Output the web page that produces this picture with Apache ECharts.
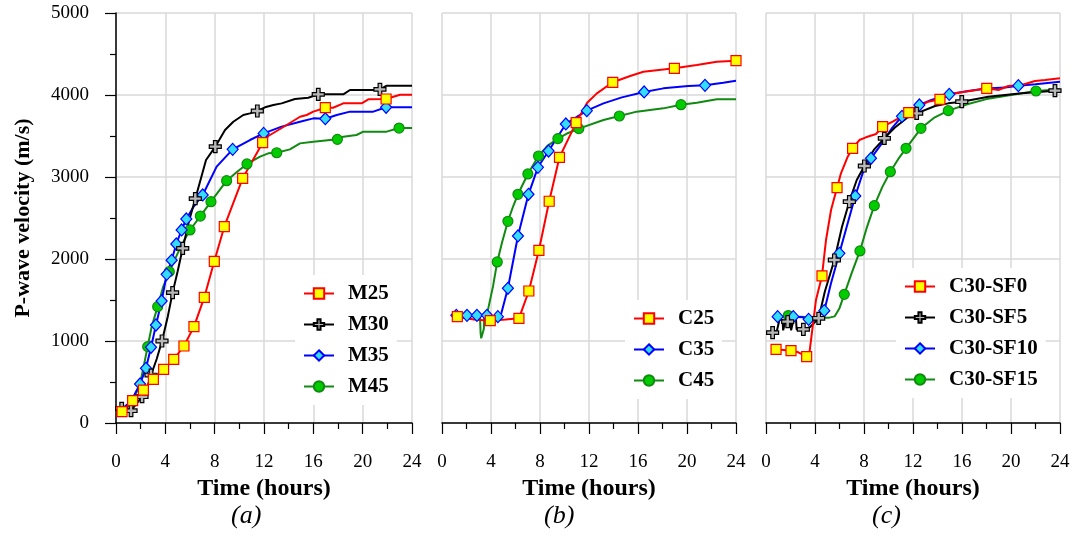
<!DOCTYPE html>
<html>
<head>
<meta charset="utf-8">
<script src="https://cdn.jsdelivr.net/npm/echarts@6/dist/echarts.min.js"></script>
<style>
html,body{margin:0;padding:0;background:#fff;}
#main{width:1075px;height:536px;}
</style>
</head>
<body>
<div id="main"></div>
<script>
// tick labels
var xTicks=[0,4,8,12,16,20,24];
var yTicks=[0,1000,2000,3000,4000,5000];
var panelTags=['(a)','(b)','(c)'];

// panel (a) - line vertices and marker points, [hours, m/s]
var m25=[[12.35,3500],[13.84,3634],[14.92,3735],[15.46,3756],[16.0,3797],[17.6,3845],[18.43,3898],[19.92,3898],[20.46,3947],[23.03,4004],[24,4004]];
var m25Mk=[[0.49,138],[1.35,272],[2.22,402],[3.03,533],[3.86,654],[4.68,776],[5.51,939],[6.32,1175],[7.16,1533],[7.97,1972],[8.78,2394],[10.27,2984],[11.89,3419],[16.97,3845],[21.9,3951]];
var m30=[[2.5,420],[3.3,780],[4.2,1300],[5.0,1850],[5.9,2450],[7.3,3207],[8.84,3573],[9.51,3674],[10.32,3756],[10.86,3776],[12.08,3850],[12.76,3878],[13.43,3898],[14.51,3951],[15.59,3967],[18.43,4008],[18.97,4061],[20.86,4061],[21.95,4114],[24,4114]];
var m30Mk=[[0.46,179],[1.22,150],[2.11,321],[2.84,585],[3.73,1000],[4.59,1590],[5.41,2130],[6.43,2736],[8.05,3370],[11.46,3805],[16.4,4008],[21.4,4069]];
var m35=[[0.45,170],[1.2,260],[6.3,2640],[8.16,3126],[10.86,3451],[13.43,3614],[14.92,3674],[16.0,3715],[17.9,3756],[18.97,3797],[20.86,3797],[24,3850]];
var m35Mk=[[1.95,476],[2.43,667],[2.84,923],[3.24,1195],[3.70,1488],[4.11,1813],[4.51,1984],[4.89,2183],[5.32,2354],[5.70,2488],[7.03,2781],[9.46,3337],[11.97,3532],[16.97,3711],[21.9,3850]];
var m45=[[0.45,150],[1.2,260],[1.9,440],[2.9,1180],[3.8,1650],[5.0,2069],[5.54,2232],[9.8,3060],[11.68,3248],[12.35,3289],[14.1,3337],[14.92,3410],[16.0,3431],[18.43,3492],[19.5,3512],[20.05,3553],[21.95,3553],[24,3597]];
var m45Mk=[[2.57,931],[3.38,1419],[4.32,1846],[6.0,2354],[6.84,2524],[7.70,2699],[8.97,2955],[10.62,3159],[13.03,3296],[17.95,3459],[22.95,3597]];

// panel (b)
var c25=[[2.6,1262],[5.2,1262],[11.85,3905],[12.64,4020],[15.36,4232],[16.44,4284],[20.8,4366],[22.43,4406]];
var c25Mk=[[1.25,1297],[3.94,1248],[6.28,1277],[7.09,1610],[7.91,2106],[8.75,2704],[9.59,3240],[10.95,3663],[13.94,4155],[18.97,4325],[24,4418]];
var c35=[[4.85,1340],[13.18,3898],[14.68,3971],[18.07,4081],[20.1,4110],[22.96,4150],[24,4175]];
var c35Mk=[[1.17,1313],[2.04,1313],[2.85,1313],[3.67,1313],[4.56,1297],[5.38,1643],[6.2,2281],[7.06,2789],[7.83,3118],[8.7,3317],[10.11,3647],[11.82,3809],[16.5,4037],[21.47,4118]];
var c45=[[1.2,1300],[2.0,1295],[2.85,1305],[3.1,1300],[3.15,1100],[3.2,1033],[3.35,1033],[3.42,1150],[3.45,1300],[3.75,1380],[4.16,1663],[4.9,2200],[5.8,2640],[8.6,3380],[10.2,3530],[13.18,3695],[15.9,3797],[18.07,3837],[20.8,3906],[22.43,3947],[24,3947]];
var c45Mk=[[4.51,1964],[5.38,2460],[6.2,2789],[7.01,3037],[7.88,3256],[9.46,3468],[11.17,3590],[14.48,3744],[19.51,3882]];

// panel (c)
var sf0=[[2.6,865],[3.54,850],[3.81,1175],[4.08,1500],[4.9,2232],[5.31,2598],[6.12,3045],[6.67,3248],[7.62,3451],[8.16,3484],[8.98,3524],[10.34,3675],[12.43,3857],[13.25,3918],[15.43,4020],[16.79,4053],[18.97,4061],[19.78,4110],[20.87,4122],[21.96,4171],[22.78,4183],[24,4203]];
var sf0Mk=[[0.82,899],[2.04,882],[3.32,809],[4.57,1793],[5.80,2870],[7.07,3350],[9.52,3614],[11.65,3785],[14.2,3947],[18.02,4081]];
var sf5=[[0.9,1130],[1.05,1130],[1.1,1260],[1.35,1260],[1.4,1130],[1.55,1130],[1.6,1250],[2.0,1240],[2.05,1130],[2.2,1130],[2.25,1260],[2.45,1260],[2.5,1140],[3.6,1170],[4.8,1600],[6.2,2390],[7.4,2960],[8.8,3330],[10.5,3600],[11.5,3720],[13.8,3866],[14.88,3898],[18.15,3979],[20.87,4020],[24,4053]];
var sf5Mk=[[0.54,1102],[1.77,1236],[3.05,1142],[4.3,1277],[5.58,1988],[6.8,2699],[8.03,3134],[9.66,3472],[12.3,3776],[15.98,3918],[23.59,4053]];
var sf10=[[3.0,1290],[3.9,1250],[4.3,1300],[5.3,1700],[6.6,2400],[7.9,3050],[9.5,3420],[10.3,3600],[13.5,3940],[16.5,4050],[18,4080],[19.5,4090],[22,4130],[24,4163]];
var sf10Mk=[[0.95,1297],[2.23,1297],[3.48,1264],[4.76,1370],[5.99,2069],[7.29,2769],[8.57,3228],[11.1,3740],[12.52,3878],[14.96,4008],[20.6,4114]];
var sf15=[[2.5,1300],[3.5,1290],[4.5,1285],[5.17,1285],[5.6,1300],[6.0,1400],[7.0,1830],[8.2,2370],[9.5,2880],[10.8,3220],[13.7,3720],[16.5,3890],[18,3950],[20,4000],[24,4069]];
var sf15Mk=[[1.82,1310],[6.39,1569],[7.67,2098],[8.84,2651],[10.15,3065],[11.43,3350],[12.65,3594],[14.88,3809],[22.04,4049]];

var serif='Liberation Serif';
var plus='path://M3.5,0 H6.5 V3.5 H10 V6.5 H6.5 V10 H3.5 V6.5 H0 V3.5 H3.5 Z';
var styles={
    sq:{symbol:'rect',size:10,fill:'#ffff00',line:'#ff0000'},
    pl:{symbol:plus,size:12,fill:'#b8b8b8',line:'#000000'},
    di:{symbol:'diamond',size:[11,12],fill:'#33ddff',line:'#0000ff'},
    ci:{symbol:'circle',size:10,fill:'#00cc00',line:'#108a10'}
};

function mkSeries(name,idx,pts,marks,st){
    var all=pts.map(function(p){return {value:p,symbol:'none'};})
        .concat(marks.map(function(p){return {value:p};}));
    all.sort(function(a,b){return a.value[0]-b.value[0];});
    return {
        name:name,type:'line',xAxisIndex:idx,yAxisIndex:idx,data:all,
        symbol:st.symbol,symbolSize:st.size,showSymbol:true,showAllSymbol:true,
        lineStyle:{color:st.line,width:2},
        itemStyle:{color:st.fill,borderColor:st.line,borderWidth:1.2},
        emphasis:{disabled:true},silent:true
    };
}

var grids=[
    {left:116,top:13,width:296,height:410},
    {left:442,top:13,width:294,height:410},
    {left:766,top:13,width:294,height:410}
];

function mkX(i){
    return {
        type:'value',gridIndex:i,min:0,max:24,interval:4,
        name:'Time (hours)',nameLocation:'middle',nameGap:51,
        nameTextStyle:{fontFamily:serif,fontWeight:'bold',fontSize:24,color:'#000'},
        axisLine:{show:true,onZero:false,lineStyle:{color:'#000',width:1.5}},
        axisTick:{show:true,inside:false,length:11,lineStyle:{color:'#000',width:1.2}},
        minorTick:{show:true,splitNumber:2,length:6,lineStyle:{color:'#000',width:1.2}},
        axisLabel:{margin:30,fontFamily:serif,fontSize:19,color:'#000',
            formatter:function(v){return xTicks.indexOf(v)>=0?String(v):'';}},
        splitLine:{show:true,lineStyle:{color:'#d9d9d9',width:1.5}}
    };
}

function mkY(i){
    var first=(i===0);
    return {
        type:'value',gridIndex:i,min:0,max:5000,interval:1000,
        name:first?'P-wave velocity (m/s)':'',nameLocation:'middle',nameGap:82,
        nameTextStyle:{fontFamily:serif,fontWeight:'bold',fontSize:22,color:'#000'},
        axisLine:{show:first,lineStyle:{color:'#000',width:1.5}},
        axisTick:{show:first,inside:false,length:11,lineStyle:{color:'#000',width:1.2}},
        minorTick:{show:first,splitNumber:2,length:6,lineStyle:{color:'#000',width:1.2}},
        axisLabel:{show:first,margin:27,fontFamily:serif,fontSize:19,color:'#000',
            formatter:function(v){return yTicks.indexOf(v)>=0?String(v):'';}},
        splitLine:{show:true,lineStyle:{color:'#d9d9d9',width:1.5}}
    };
}

function mkLegend(names,left,top){
    return {
        data:names,orient:'vertical',left:left,top:top,
        backgroundColor:'#fff',padding:[8,8,8,8],
        itemWidth:30,itemHeight:13,itemGap:10,
        textStyle:{fontFamily:serif,fontWeight:'bold',fontSize:21,color:'#000',lineHeight:20,padding:[0,0,0,9]},
        selectedMode:false
    };
}

var series=[
    mkSeries('M45',0,m45,m45Mk,styles.ci),
    mkSeries('M35',0,m35,m35Mk,styles.di),
    mkSeries('M30',0,m30,m30Mk,styles.pl),
    mkSeries('M25',0,m25,m25Mk,styles.sq),
    mkSeries('C45',1,c45,c45Mk,styles.ci),
    mkSeries('C35',1,c35,c35Mk,styles.di),
    mkSeries('C25',1,c25,c25Mk,styles.sq),
    mkSeries('C30-SF15',2,sf15,sf15Mk,styles.ci),
    mkSeries('C30-SF10',2,sf10,sf10Mk,styles.di),
    mkSeries('C30-SF5',2,sf5,sf5Mk,styles.pl),
    mkSeries('C30-SF0',2,sf0,sf0Mk,styles.sq)
];

var tagX=[246,559,887];
var graphics=panelTags.map(function(t,i){
    return {type:'text',left:tagX[i]-15,top:503,
        style:{text:t,fontFamily:serif,fontStyle:'italic',fontSize:26,fill:'#000'}};
});

var myChart=echarts.init(document.getElementById('main'),null,{renderer:'canvas'});
var option={
    animation:false,
    backgroundColor:'#fff',
    grid:grids,
    xAxis:[mkX(0),mkX(1),mkX(2)],
    yAxis:[mkY(0),mkY(1),mkY(2)],
    legend:[
        mkLegend(['M25','M30','M35','M45'],295,275),
        mkLegend(['C25','C35','C45'],625,300),
        mkLegend(['C30-SF0','C30-SF5','C30-SF10','C30-SF15'],896,268)
    ],
    graphic:graphics,
    series:series
};
myChart.setOption(option);
</script>
</body>
</html>
